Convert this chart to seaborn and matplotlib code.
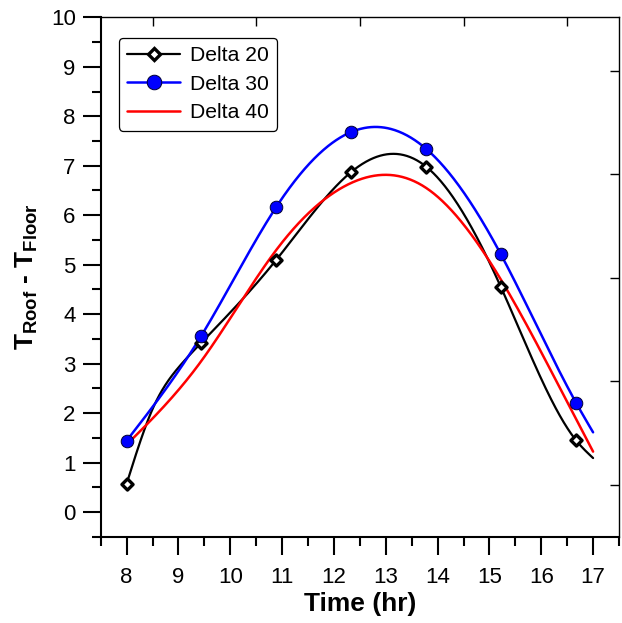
import numpy as np
import pandas as pd
import matplotlib
matplotlib.use("Agg")
import matplotlib.pyplot as plt
import seaborn as sns
from matplotlib.lines import Line2D
from matplotlib.ticker import MultipleLocator, NullFormatter

# ---------------- data ----------------
# marker points
hours = [8.0, 9.44, 10.89, 12.33, 13.78, 15.22, 16.67]
delta20 = [0.57, 3.42, 5.10, 6.87, 6.98, 4.55, 1.45]
delta30 = [1.44, 3.56, 6.17, 7.68, 7.34, 5.21, 2.21]
delta40 = [1.36, 3.05, 5.30, 6.65, 6.55, 4.70, 1.88]
# extra points (no markers there)
d20_curve_x = [8.5, 9.0, 17.0]
d20_curve_y = [2.08, 2.92, 1.09]
d30_curve_x = [17.0]
d30_curve_y = [1.61]
d40_curve_x = [17.0]
d40_curve_y = [1.22]
series_names = ["Delta 20", "Delta 30", "Delta 40"]
x_ticks = [8, 9, 10, 11, 12, 13, 14, 15, 16, 17]
y_ticks = [0, 1, 2, 3, 4, 5, 6, 7, 8, 9, 10]
top_ticks = [8.5, 10.5, 12.5, 14.5, 16.5]
right_ticks = [0.545, 2.64, 4.73, 6.83, 8.92]

sns.set_style("white")
plt.rcParams["font.family"] = ["Liberation Sans", "DejaVu Sans"]
plt.rcParams["mathtext.fontset"] = "custom"
plt.rcParams["mathtext.rm"] = "Liberation Sans"
plt.rcParams["mathtext.bf"] = "Liberation Sans:bold"
plt.rcParams["mathtext.it"] = "Liberation Sans:italic"
for k in ["text.color", "axes.labelcolor", "xtick.color", "ytick.color",
          "axes.edgecolor"]:
    plt.rcParams[k] = "black"


def natural_spline(x, y, xs):
    order = np.argsort(x)
    x = np.asarray(x, float)[order]
    y = np.asarray(y, float)[order]
    n = len(x)
    h = np.diff(x)
    A = np.zeros((n, n))
    b = np.zeros(n)
    A[0, 0] = 1.0
    A[-1, -1] = 1.0
    for i in range(1, n - 1):
        A[i, i - 1] = h[i - 1]
        A[i, i] = 2 * (h[i - 1] + h[i])
        A[i, i + 1] = h[i]
        b[i] = 3 * ((y[i + 1] - y[i]) / h[i] - (y[i] - y[i - 1]) / h[i - 1])
    c = np.linalg.solve(A, b)
    bb = (y[1:] - y[:-1]) / h - h * (2 * c[:-1] + c[1:]) / 3
    d = (c[1:] - c[:-1]) / (3 * h)
    idx = np.clip(np.searchsorted(x, xs) - 1, 0, n - 2)
    t = xs - x[idx]
    return y[idx] + bb[idx] * t + c[idx] * t ** 2 + d[idx] * t ** 3


fig = plt.figure(figsize=(6.22, 6.23), dpi=100)
ax = fig.add_axes([100.7 / 622, (623 - 536.7) / 623, 518.3 / 622, 519.4 / 623])

xs = np.linspace(8.0, 17.0, 700)
styles = [
    dict(color="#000000", lw=1.6),
    dict(color="#0000FF", lw=1.8),
    dict(color="#FF0000", lw=1.8),
]
curves = [
    (hours + d20_curve_x, delta20 + d20_curve_y),
    (hours + d30_curve_x, delta30 + d30_curve_y),
    (hours + d40_curve_x, delta40 + d40_curve_y),
]
for (cx, cy), st in zip(curves, styles):
    curve = pd.DataFrame({"x": xs, "y": natural_spline(cx, cy, xs)})
    sns.lineplot(data=curve, x="x", y="y", ax=ax, color=st["color"],
                 linewidth=st["lw"], sort=False, legend=False)

pts20 = pd.DataFrame({"x": hours, "y": delta20})
pts30 = pd.DataFrame({"x": hours, "y": delta30})
sns.scatterplot(data=pts20, x="x", y="y", ax=ax, marker="D", s=32,
                facecolor="white", edgecolor="black", linewidth=2.4,
                zorder=5, legend=False)
sns.scatterplot(data=pts30, x="x", y="y", ax=ax, marker="o", s=82,
                color="#0000FF", edgecolor="#000033", linewidth=0.7,
                zorder=5, legend=False)

ax.set_xlim(7.5, 17.5)
ax.set_ylim(-0.5, 10)
ax.set_xticks(x_ticks)
ax.set_yticks(y_ticks)
ax.xaxis.set_minor_locator(MultipleLocator(0.5))
ax.yaxis.set_minor_locator(MultipleLocator(0.5))
ax.tick_params(axis="both", which="both", bottom=True, left=True,
               top=False, right=False)
ax.tick_params(axis="both", which="major", direction="out", length=13,
               width=1.5, labelsize=16, colors="black")
ax.tick_params(axis="both", which="minor", direction="out", length=6.5,
               width=1.5, colors="black")
ax.tick_params(axis="x", which="major", pad=8.5)
ax.tick_params(axis="y", which="major", pad=5)
for s in ["left", "bottom"]:
    ax.spines[s].set_linewidth(1.5)
    ax.spines[s].set_color("black")
for s in ["top", "right"]:
    ax.spines[s].set_visible(False)

secx = ax.secondary_xaxis("top")
secx.set_xticks(top_ticks)
secx.xaxis.set_major_formatter(NullFormatter())
secx.tick_params(direction="in", length=6.3, width=1.0, colors="black")
secx.spines["top"].set_linewidth(1.0)
secx.spines["top"].set_color("black")
secy = ax.secondary_yaxis("right")
secy.set_yticks(right_ticks)
secy.yaxis.set_major_formatter(NullFormatter())
secy.tick_params(direction="in", length=6.3, width=1.0, colors="black")
secy.spines["right"].set_linewidth(1.0)
secy.spines["right"].set_color("black")

ax.set_xlabel("Time (hr)", fontsize=19, fontweight="bold", labelpad=3)
ax.set_ylabel(r"$\mathbf{T_{Roof}}$ - $\mathbf{T_{Floor}}$", fontsize=19,
              fontweight="bold")
ax.yaxis.set_label_coords(-0.117, 0.50)

handles = [
    Line2D([], [], color="black", lw=1.6, marker="D", markersize=6.5,
           markerfacecolor="white", markeredgecolor="black", markeredgewidth=2.4),
    Line2D([], [], color="#0000FF", lw=1.8, marker="o", markersize=10.5,
           markerfacecolor="#0000FF", markeredgecolor="#000033", markeredgewidth=0.7),
    Line2D([], [], color="#FF0000", lw=1.8),
]
leg = ax.legend(handles, series_names, loc="upper left",
                bbox_to_anchor=(0.0353, 0.9607), borderaxespad=0,
                fontsize=15.2, frameon=True, fancybox=True, framealpha=1,
                edgecolor="black", handlelength=2.5, handletextpad=0.45,
                labelspacing=0.45, borderpad=0.4)
leg.get_frame().set_linewidth(0.9)

fig.savefig("out.png", dpi=100)
